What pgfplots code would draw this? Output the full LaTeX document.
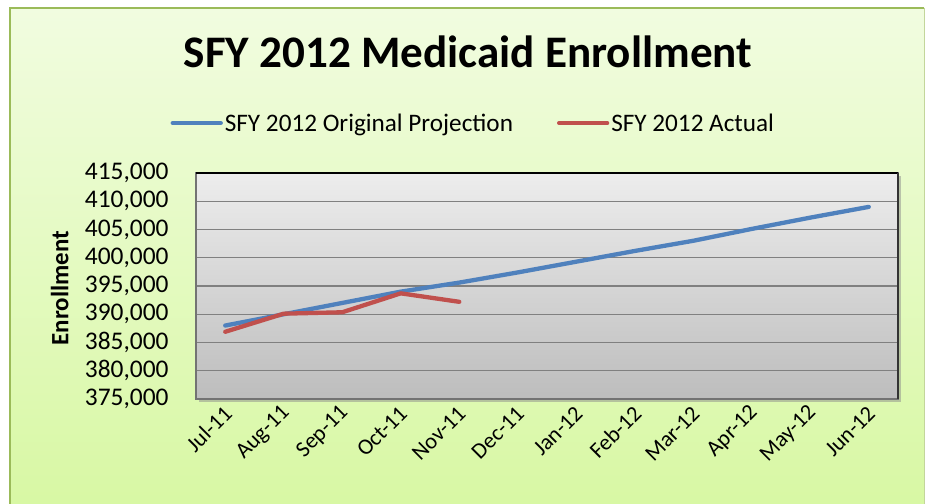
\documentclass[border=0pt]{standalone}
\usepackage{pgfplots}
\pgfplotsset{compat=1.18}
\usepackage{fontspec}
\setmainfont{Carlito}
\definecolor{projblue}{HTML}{4F81BD}
\definecolor{actred}{HTML}{C0504D}
\definecolor{bgtop}{HTML}{F1FCE0}
\definecolor{bgbot}{HTML}{D8F8A4}
\definecolor{bgborder}{HTML}{9BBB59}
\definecolor{plottop}{HTML}{EDEDED}
\definecolor{plotbot}{HTML}{BDBDBD}
\pgfplotstableread{
x proj
0 388000
1 390000
2 392000
3 394000
4 395600
5 397400
6 399300
7 401200
8 403000
9 405100
10 407100
11 409000
}\projtab
\pgfplotstableread{
x act
0 386900
1 390100
2 390350
3 393700
4 392200
}\acttab
\begin{document}
\begin{tikzpicture}[x=1bp,y=1bp]
\useasboundingbox (0,0) rectangle (925,504);
\fill[white] (0,0) rectangle (925,504);
\shade[top color=bgtop,bottom color=bgbot] (10,0) rectangle (924,496);
\draw[bgborder,line width=2bp] (10,0) -- (10,496) -- (924,496);
\draw[bgborder!60,line width=1bp] (924,496) -- (924,0);
\node[anchor=base,font=\bfseries\fontsize{45.3}{52}\selectfont] at (468,436) {SFY 2012 Medicaid Enrollment};
% shadow of plot area
\fill[black!45,opacity=0.5] (199,102) rectangle (901,328);
\begin{axis}[
  at={(196bp,105bp)}, anchor=south west,
  scale only axis, width=702bp, height=226bp,
  xmin=-0.5, xmax=11.5, ymin=375000, ymax=415000,
  ytick={375000,380000,385000,390000,395000,400000,405000,410000,415000},
  yticklabels={{375,000},{380,000},{385,000},{390,000},{395,000},{400,000},{405,000},{410,000},{415,000}},
  xtick={0,...,11},
  xticklabels={Jul-11,Aug-11,Sep-11,Oct-11,Nov-11,Dec-11,Jan-12,Feb-12,Mar-12,Apr-12,May-12,Jun-12},
  x tick label style={rotate=45, anchor=east, font=\fontsize{22.5}{26}\selectfont, xshift=-2.4bp, yshift=-9.6bp},
  y tick label style={font=\fontsize{25.5}{30}\selectfont, xshift=-24bp},
  scaled y ticks=false,
  major tick length=0pt,
  ymajorgrids, grid style={black!50, line width=1.2bp},
  axis background/.style={top color=plottop, bottom color=plotbot},
  axis line style={black!55, line width=1.2bp},
  ylabel={Enrollment},
  ylabel style={at={(axis description cs:-0.194,0.49)}, anchor=center, font=\bfseries\fontsize{25}{30}\selectfont},
  legend columns=2,
  legend style={at={(axis description cs:0.395,1.221)}, anchor=center, draw=none, fill=none,
    font=\fontsize{25.3}{30}\selectfont,
    /tikz/every even column/.append style={column sep=42bp}},
  legend image code/.code={\draw[#1,line cap=round] (0bp,0bp) -- (48bp,0bp);},
  clip=false,
]
\addplot[projblue, line width=4.3bp, line cap=round, line join=round] table[x=x,y=proj] {\projtab};
\addlegendentry{SFY 2012 Original Projection}
\addplot[actred, line width=4.3bp, line cap=round, line join=round] table[x=x,y=act] {\acttab};
\addlegendentry{SFY 2012 Actual}
\draw[black, line width=1.5bp] (rel axis cs:0,1) -- (rel axis cs:1,1);
\draw[black!80, line width=1.5bp] (rel axis cs:1,1) -- (rel axis cs:1,0);
\end{axis}
\end{tikzpicture}
\end{document}
